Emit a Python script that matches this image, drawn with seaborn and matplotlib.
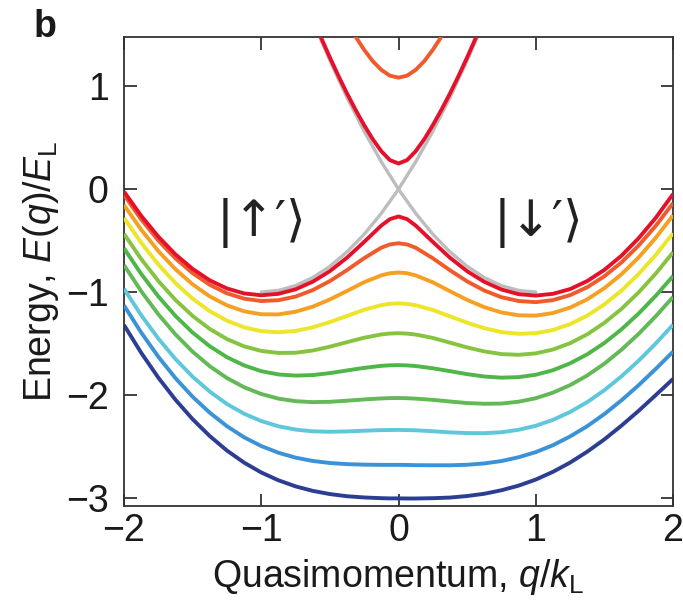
import numpy as np
import pandas as pd
import matplotlib
matplotlib.use("Agg")
import matplotlib.pyplot as plt
import seaborn as sns

# ---------------- data ----------------
q_grid = [-2, -1.875, -1.75, -1.625, -1.5, -1.375, -1.25, -1.125, -1, -0.875, -0.75, -0.625,
          -0.5, -0.375, -0.25, -0.125, -0.0625, 0, 0.0625, 0.125, 0.25, 0.375, 0.5, 0.625,
          0.75, 0.875, 1, 1.125, 1.25, 1.375, 1.5, 1.625, 1.75, 1.875, 2]

band_red = [-0.023, -0.258, -0.461, -0.634, -0.775, -0.886, -0.965, -1.013, -1.031, -1.017, -0.973, -0.899,
            -0.796, -0.665, -0.512, -0.353, -0.291, -0.265,
            -0.291, -0.353, -0.512, -0.666, -0.797, -0.900, -0.975, -1.020, -1.034, -1.017, -0.971,
            -0.893, -0.784, -0.646, -0.476, -0.277, -0.048]
band_orangered = [-0.056, -0.293, -0.498, -0.673, -0.816, -0.929, -1.012, -1.064, -1.087, -1.079, -1.044, -0.981,
                  -0.893, -0.786, -0.670, -0.568, -0.537, -0.525,
                  -0.537, -0.569, -0.671, -0.788, -0.896, -0.985, -1.050, -1.087, -1.098, -1.078, -1.030,
                  -0.953, -0.846, -0.711, -0.547, -0.355, -0.136]
band_orange = [-0.154, -0.393, -0.601, -0.778, -0.925, -1.042, -1.129, -1.187, -1.216, -1.217, -1.191, -1.142,
               -1.072, -0.989, -0.904, -0.837, -0.817, -0.810,
               -0.817, -0.838, -0.905, -0.992, -1.076, -1.147, -1.198, -1.226, -1.229, -1.204, -1.151,
               -1.071, -0.962, -0.826, -0.663, -0.471, -0.254]
band_yellow = [-0.279, -0.520, -0.732, -0.913, -1.064, -1.186, -1.278, -1.343, -1.380, -1.391, -1.378, -1.343,
               -1.292, -1.232, -1.172, -1.127, -1.114, -1.110,
               -1.115, -1.128, -1.174, -1.236, -1.298, -1.351, -1.389, -1.406, -1.400, -1.369, -1.312,
               -1.229, -1.120, -0.985, -0.824, -0.638, -0.429]
band_lime = [-0.434, -0.678, -0.892, -1.077, -1.232, -1.359, -1.457, -1.528, -1.572, -1.592, -1.590, -1.568,
             -1.531, -1.487, -1.444, -1.412, -1.403, -1.400,
             -1.404, -1.413, -1.446, -1.492, -1.538, -1.577, -1.603, -1.610, -1.596, -1.559, -1.497,
             -1.411, -1.299, -1.163, -1.003, -0.819, -0.614]
band_green = [-0.575, -0.823, -1.042, -1.232, -1.394, -1.527, -1.633, -1.713, -1.769, -1.801, -1.812, -1.807,
              -1.788, -1.762, -1.737, -1.717, -1.712, -1.710,
              -1.713, -1.719, -1.741, -1.769, -1.798, -1.821, -1.832, -1.827, -1.804, -1.760, -1.693,
              -1.605, -1.495, -1.362, -1.208, -1.035, -0.845]
band_green2 = [-0.738, -0.991, -1.216, -1.412, -1.580, -1.721, -1.836, -1.925, -1.991, -2.036, -2.061, -2.070,
               -2.067, -2.056, -2.044, -2.034, -2.031, -2.030,
               -2.032, -2.036, -2.048, -2.064, -2.079, -2.086, -2.084, -2.066, -2.032, -1.978, -1.905,
               -1.811, -1.696, -1.560, -1.406, -1.234, -1.048]
band_cyan = [-0.968, -1.224, -1.452, -1.651, -1.823, -1.968, -2.088, -2.183, -2.254, -2.305, -2.337, -2.354,
             -2.358, -2.355, -2.348, -2.342, -2.341, -2.340,
             -2.342, -2.344, -2.353, -2.364, -2.371, -2.372, -2.363, -2.339, -2.300, -2.243, -2.166,
             -2.070, -1.954, -1.819, -1.667, -1.499, -1.318]
band_blue = [-1.130, -1.393, -1.629, -1.837, -2.018, -2.173, -2.304, -2.412, -2.497, -2.562, -2.610, -2.642,
             -2.662, -2.673, -2.678, -2.680, -2.680, -2.680,
             -2.681, -2.683, -2.684, -2.684, -2.679, -2.666, -2.643, -2.606, -2.556, -2.489, -2.404,
             -2.304, -2.186, -2.052, -1.905, -1.746, -1.580]
band_navy = [-1.320, -1.590, -1.832, -2.047, -2.236, -2.400, -2.541, -2.658, -2.754, -2.830, -2.889, -2.933,
             -2.964, -2.985, -2.997, -3.004, -3.006, -3.006,
             -3.007, -3.007, -3.004, -2.998, -2.983, -2.961, -2.927, -2.882, -2.823, -2.748, -2.658,
             -2.552, -2.432, -2.298, -2.154, -2.001, -1.845]

q_upper = [-0.625, -0.5625, -0.5, -0.4375, -0.375, -0.3125, -0.25, -0.1875, -0.125, -0.0625, 0,
           0.0625, 0.125, 0.1875, 0.25, 0.3125, 0.375, 0.4375, 0.5, 0.5625, 0.625]
upper_red = [1.665, 1.469, 1.281, 1.101, 0.931, 0.771, 0.622, 0.486, 0.369, 0.283, 0.25,
             0.283, 0.369, 0.486, 0.622, 0.771, 0.931, 1.101, 1.281, 1.469, 1.665]
upper_orange = [2.322, 2.133, 1.953, 1.784, 1.627, 1.483, 1.355, 1.245, 1.160, 1.104, 1.085,
                1.104, 1.160, 1.245, 1.355, 1.483, 1.627, 1.784, 1.953, 2.133, 2.322]

q_gray = [-1.0, -0.875, -0.75, -0.625, -0.5, -0.375, -0.25, -0.125, 0, 0.125, 0.25, 0.375, 0.5, 0.625]
gray_rising = [-1.0, -0.984, -0.9375, -0.859, -0.75, -0.609, -0.4375, -0.234, 0.0, 0.266, 0.5625,
               0.891, 1.25, 1.641]
q_gray_falling = [-0.625, -0.5, -0.375, -0.25, -0.125, 0, 0.125, 0.25, 0.375, 0.5, 0.625, 0.75,
                  0.875, 1.0]
gray_falling = [1.641, 1.25, 0.891, 0.5625, 0.266, 0.0, -0.234, -0.4375, -0.609, -0.75, -0.859,
                -0.9375, -0.984, -1.0]

x_ticks = [-2, -1, 0, 1, 2]
y_ticks = [-3, -2, -1, 0, 1]

# ---------------- styling ----------------
sns.set_style("ticks")
plt.rcParams["font.family"] = ["Liberation Sans", "DejaVu Sans"]
plt.rcParams["mathtext.fontset"] = "custom"
plt.rcParams["mathtext.rm"] = "Liberation Sans"
plt.rcParams["mathtext.it"] = "Liberation Sans:italic"
plt.rcParams["mathtext.bf"] = "Liberation Sans:bold"

lower_bands = [
    ("navy", band_navy, "#2c3d94"),
    ("blue", band_blue, "#3b92d6"),
    ("cyan", band_cyan, "#5ec7dc"),
    ("green2", band_green2, "#62b956"),
    ("green", band_green, "#4fb648"),
    ("lime", band_lime, "#86c440"),
    ("yellow", band_yellow, "#ece528"),
    ("orange", band_orange, "#f6a023"),
    ("orangered", band_orangered, "#ef5b2a"),
    ("red", band_red, "#e5102a"),
]

fig = plt.figure(figsize=(6.83, 6.13), dpi=100)
ax = fig.add_axes([124 / 683, 1 - 506 / 613, (673 - 124) / 683, (506 - 37) / 613])

lw = 2.8
gray = "#bdbdbd"
sns.lineplot(x=q_gray, y=gray_rising, ax=ax, color=gray, lw=2.4, estimator=None, sort=False, zorder=1)
sns.lineplot(x=q_gray_falling, y=gray_falling, ax=ax, color=gray, lw=2.4, estimator=None, sort=False, zorder=1)

for i, (name, vals, col) in enumerate(lower_bands):
    sns.lineplot(x=q_grid, y=vals, ax=ax, color=col, lw=lw, estimator=None, sort=False,
                 zorder=2 + i, solid_joinstyle="round", solid_capstyle="butt")

sns.lineplot(x=q_upper, y=upper_orange, ax=ax, color="#ef5b2a", lw=lw, estimator=None, sort=False,
             zorder=20, solid_joinstyle="round")
sns.lineplot(x=q_upper, y=upper_red, ax=ax, color="#e5102a", lw=lw, estimator=None, sort=False,
             zorder=21, solid_joinstyle="round")

ax.set_xlim(-2, 2)
ax.set_ylim(-3.08, 1.48)
ax.set_xticks(x_ticks)
ax.set_yticks(y_ticks)

for s in ax.spines.values():
    s.set_color("#333333")
    s.set_linewidth(1.3)
ax.tick_params(direction="in", length=9, width=1.3, color="#333333",
               top=True, right=True, labelsize=27, labelcolor="#1a1a1a")
ax.tick_params(axis="x", pad=5)
ax.tick_params(axis="y", pad=11)

ax.set_xlabel(r"Quasimomentum, $q/k_{\mathrm{L}}$", fontsize=27, color="#1a1a1a", labelpad=6)
ax.set_ylabel(r"Energy, $E(q)/E_{\mathrm{L}}$", fontsize=27, color="#1a1a1a")
ax.yaxis.set_label_coords(-0.115, 0.5)

ket_font = ["DejaVu Sans"]
ax.text(-1.0, -0.33, "|↑′⟩", fontsize=36, ha="center", va="center", color="#222222",
        family=ket_font, zorder=30)
ax.text(1.02, -0.33, "|↓′⟩", fontsize=36, ha="center", va="center", color="#222222",
        family=ket_font, zorder=30)

fig.text(45 / 683, 1 - 27 / 613, "b", fontsize=27, fontweight="bold", ha="center", va="center",
         color="#1a1a1a")

fig.savefig("out.png", dpi=100)
